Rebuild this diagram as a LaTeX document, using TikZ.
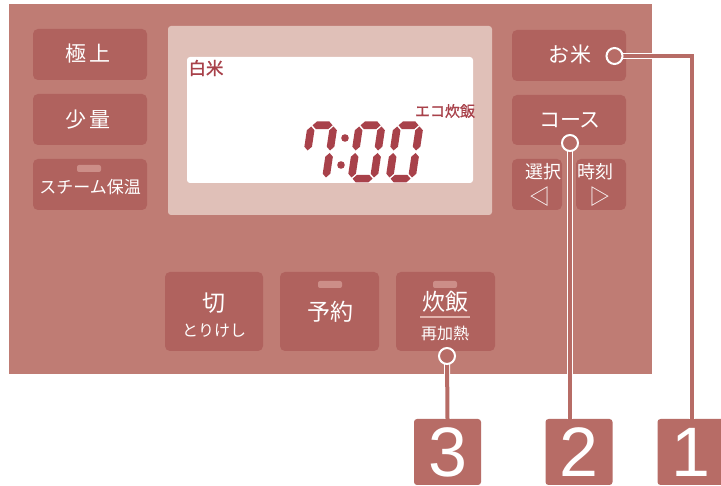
\documentclass[tikz,border=0pt]{standalone}
\usepackage{fontspec}
\newfontfamily\jp{Noto Sans CJK JP}
\newfontfamily\jpb[FakeBold=1.2]{Noto Sans CJK JP}
\newfontfamily\lsans{Liberation Sans}
\definecolor{panelc}{HTML}{BF7C74}
\definecolor{btnc}{HTML}{B0625E}
\definecolor{calc}{HTML}{B76C66}
\definecolor{dispc}{HTML}{E0C0B8}
\definecolor{digc}{HTML}{A8414A}
\definecolor{indc}{HTML}{CC8E88}
\definecolor{ulc}{HTML}{E2B4AE}
\newcommand\dighseg[3]{\fill[digc] (#1,#3) -- ({#1+3.8},{#3-3.8}) -- ({#2-3.8},{#3-3.8}) -- (#2,#3) -- ({#2-3.8},{#3+3.8}) -- ({#1+3.8},{#3+3.8}) -- cycle;}
\newcommand\digvseg[3]{\fill[digc] (#1,#2) -- ({#1+3.8},{#2+3.8}) -- ({#1+3.8},{#3-3.8}) -- (#1,#3) -- ({#1-3.8},{#3-3.8}) -- ({#1-3.8},{#2+3.8}) -- cycle;}
\newcommand\sgA{\dighseg{5}{25}{-57.2}}
\newcommand\sgB{\digvseg{26.2}{-56}{-32}}
\newcommand\sgC{\digvseg{26.2}{-29.5}{-5}}
\newcommand\sgD{\dighseg{5}{25}{-3.8}}
\newcommand\sgE{\digvseg{3.8}{-29.5}{-5}}
\newcommand\sgF{\digvseg{3.8}{-56}{-32}}
\begin{document}
\begin{tikzpicture}[x=1pt,y=-1pt,
  btn/.style={fill=btnc, rounded corners=5pt, inner sep=0pt},
  lbl/.style={text=white, font=\jp\fontsize{#1}{#1}\selectfont, inner sep=0pt},
  ind/.style={fill=indc, rounded corners=2pt},
  dtxt/.style={text=digc, font=\jpb\fontsize{#1}{#1}\selectfont, inner sep=0pt},
  callcirc/.style={circle, fill=calc, draw=white, line width=2pt, minimum size=16pt, inner sep=0pt},
  callline/.style={draw=white, line width=1pt, double=calc, double distance=4pt},
  numbox/.style={fill=calc, rounded corners=3pt, minimum width=67pt, minimum height=66pt, inner sep=0pt},
  numtxt/.style={text=white, font=\lsans\fontsize{70}{70}\selectfont, inner sep=0pt, anchor=base}
]
\useasboundingbox (0,0) rectangle (721,486);
\fill[white] (0,0) rectangle (721,486);
% panel
\fill[panelc] (9,4) rectangle (652,374);
% left buttons
\node[btn, minimum width=114pt, minimum height=51pt] (bgoku) at (90,54.5) {};
\node[lbl=21] (tgoku) at (88,54) {極\hspace{4pt}上};
\node[btn, minimum width=114pt, minimum height=51pt] (bshou) at (90,119.5) {};
\node[lbl=21] (tshou) at (88,120) {少\hspace{4pt}量};
\node[btn, minimum width=114pt, minimum height=51pt] (bsteam) at (90,184.5) {};
\fill[ind] (77,165) rectangle (101,172);
\node[lbl=17] (tsteam) at (90,187) {スチーム保温};
% right buttons
\node[btn, minimum width=114pt, minimum height=51pt] (bokome) at (569,55.5) {};
\node[lbl=21] (tokome) at (570,55) {お\hspace{2pt}米};
\node[btn, minimum width=114pt, minimum height=50pt] (bcourse) at (569,120) {};
\node[lbl=21] (tcourse) at (570,120) {コース};
\node[btn, minimum width=50pt, minimum height=51pt] (bsel) at (537,184.5) {};
\node[btn, minimum width=50pt, minimum height=51pt] (btime) at (601,184.5) {};
\node[lbl=18] (tsel) at (543,172) {選択};
\node[lbl=18] (ttime) at (595,172) {時刻};
\node[lbl=21] (lar) at (540,197) {◁};
\node[lbl=21] (rar) at (600,197) {▷};
% bottom buttons
\node[btn, minimum width=98pt, minimum height=79pt] (bkiri) at (214,311.5) {};
\node[lbl=23] (tkiri) at (214,303) {切};
\node[lbl=16] (ttori) at (214,331) {とりけし};
\node[btn, minimum width=99pt, minimum height=79pt] (byoyaku) at (329.5,311.5) {};
\fill[ind] (318,281) rectangle (342,288);
\node[lbl=23] (tyoyaku) at (330,312) {予約};
\node[btn, minimum width=99pt, minimum height=79pt] (bsuihan) at (445.5,311.5) {};
\fill[ind] (433,281) rectangle (457,288);
\node[lbl=23] (tsuihan) at (445,302) {炊飯};
\draw[ulc, line width=2pt] (420,317.5) -- (470,317.5);
\node[lbl=16] (tsaika) at (445,333) {再加熱};
% display
\fill[dispc, rounded corners=3pt] (168,26) rectangle (492,215);
\fill[white, rounded corners=3pt] (187,57) rectangle (473,183);
\node[dtxt=17.5] (thaku) at (206,68) {白米};
\node[dtxt=15] (teco) at (445,111) {エコ炊飯};
\begin{scope}[shift={(299,182.5)}, xslant=0.15]
  \sgA \sgB \sgC \sgF
\end{scope}
\begin{scope}[shift={(347,182.5)}, xslant=0.15]
  \sgA \sgB \sgC \sgD \sgE \sgF
\end{scope}
\begin{scope}[shift={(385,182.5)}, xslant=0.15]
  \sgA \sgB \sgC \sgD \sgE \sgF
\end{scope}
\fill[digc] (345,138) circle (3.8pt);
\fill[digc] (341,165) circle (3.8pt);
% callouts
\node[numbox] (n1) at (691,452) {};
\node[numbox] (n2) at (579,452) {};
\node[numbox] (n3) at (447.5,452) {};
\node[numtxt] (d1) at (690.5,477) {1};
\node[numtxt] (d2) at (579,477) {2};
\node[numtxt] (d3) at (447.5,477) {3};
\coordinate (c1) at (614.5,56);
\coordinate (c2) at (570,143);
\coordinate (c3) at (447,356);
\draw[callline] (c1) -| (n1.north -| 692,0);
\draw[callline] (c2) -- (c2 |- n2.north);
\draw[callline] (c3) -- (n3.north);
\node[callcirc] (k1) at (c1) {};
\node[callcirc] (k2) at (c2) {};
\node[callcirc] (k3) at (c3) {};
\end{tikzpicture}
\end{document}
